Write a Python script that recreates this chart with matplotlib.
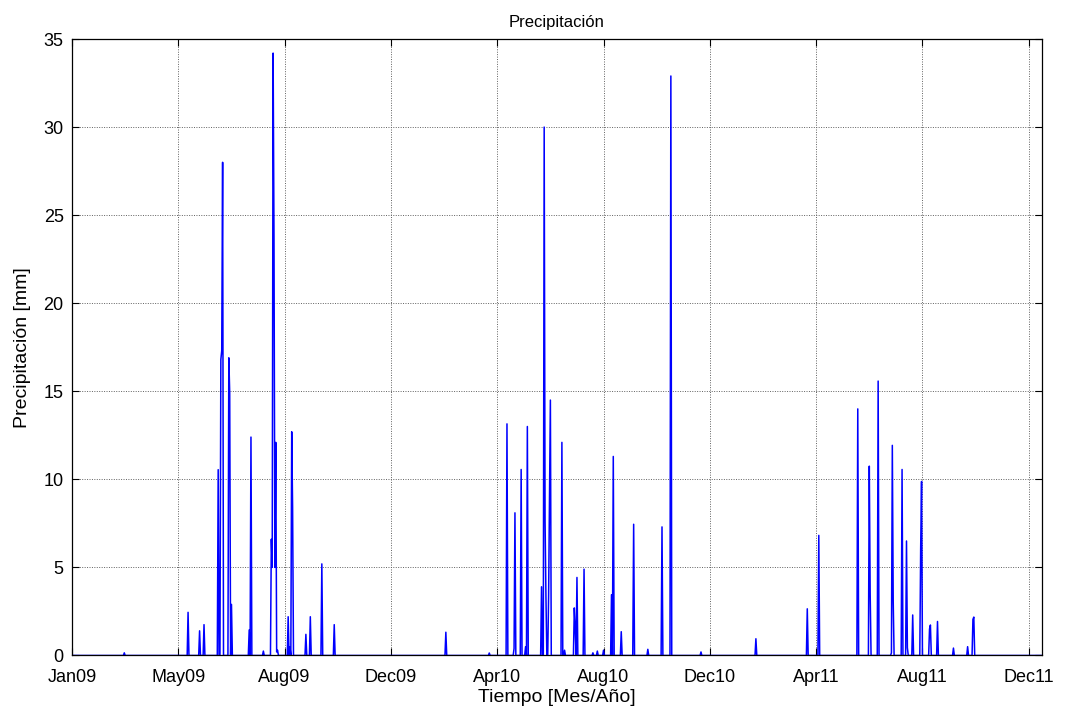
import numpy as np
import pandas as pd
import matplotlib
matplotlib.use("Agg")
import matplotlib.pyplot as plt
import matplotlib.dates as mdates

plt.rcParams['font.family'] = ['Liberation Sans', 'DejaVu Sans']

# Daily record period
start_date = "2009-01-01"
end_date = "2011-12-31"

# Days with recorded rainfall (all other days are 0 mm)
rain_dates = [
    "2009-03-01", "2009-05-12", "2009-05-25", "2009-05-30", "2009-06-15",
    "2009-06-18", "2009-06-19", "2009-06-20", "2009-06-27", "2009-06-28",
    "2009-06-30", "2009-07-20", "2009-07-22", "2009-08-05", "2009-08-14",
    "2009-08-15", "2009-08-16", "2009-08-17", "2009-08-18", "2009-08-19",
    "2009-08-20", "2009-08-21", "2009-09-02", "2009-09-04", "2009-09-06",
    "2009-09-07", "2009-09-22", "2009-09-27", "2009-10-10", "2009-10-24",
    "2010-02-27", "2010-04-17", "2010-05-07", "2010-05-15", "2010-05-16",
    "2010-05-23", "2010-05-28", "2010-05-30", "2010-06-15", "2010-06-18",
    "2010-06-19", "2010-06-20", "2010-06-23", "2010-06-24", "2010-06-25",
    "2010-07-08", "2010-07-11", "2010-07-22", "2010-07-23", "2010-07-25",
    "2010-08-02", "2010-08-12", "2010-08-17", "2010-08-24", "2010-09-02",
    "2010-09-04", "2010-09-13", "2010-09-27", "2010-10-13", "2010-10-29",
    "2010-11-08", "2010-12-12",
    "2011-02-12", "2011-04-11", "2011-04-24", "2011-06-07", "2011-06-20",
    "2011-06-21", "2011-06-30", "2011-07-15", "2011-07-16", "2011-07-17",
    "2011-07-27", "2011-08-01", "2011-08-02", "2011-08-08", "2011-08-17",
    "2011-08-18", "2011-08-27", "2011-08-28", "2011-09-05", "2011-09-23",
    "2011-10-09", "2011-10-15", "2011-10-16",
]
rain_mm = [
    0.15, 2.45, 1.4, 1.75, 10.55,
    16.8, 17.3, 28.0, 16.9, 14.9,
    2.9, 1.45, 12.4, 0.25, 6.6,
    5.0, 34.2, 23.7, 5.0, 12.1,
    0.2, 0.3, 2.2, 0.5, 12.7,
    8.4, 1.2, 2.2, 5.2, 1.75,
    1.32, 0.14, 13.15, 0.4, 8.1,
    10.56, 0.5, 13.0, 3.9, 30.0,
    7.6, 3.3, 3.4, 9.0, 14.5,
    12.1, 0.3, 2.7, 1.6, 4.43,
    4.9, 0.15, 0.25, 0.3, 3.45,
    11.3, 1.35, 7.45, 0.35, 7.3,
    32.9, 0.2,
    0.95, 2.65, 6.82, 14.0, 10.75,
    3.5, 15.58, 0.15, 11.93, 3.1,
    10.56, 6.5, 0.44, 2.3, 6.05,
    9.88, 1.5, 1.73, 1.93, 0.42,
    0.5, 2.05, 2.18,
]

tick_step_days = 120
n_ticks = 10

days = pd.date_range(start_date, end_date, freq="D")
precip = pd.Series(0.0, index=days)
precip.loc[pd.to_datetime(rain_dates)] = rain_mm

fig = plt.figure(figsize=(10.67, 7.17), dpi=100)
ax = fig.add_axes([0.0675, 0.0858, 0.9091, 0.8598])

ax.plot(precip.index, precip.values, color=(0, 0, 1), linewidth=1.1)

ax.set_xlim(pd.Timestamp(start_date), pd.Timestamp(end_date) + pd.Timedelta(days=1))
ax.set_ylim(0, 35)
ax.set_yticks(np.arange(0, 36, 5))
xt = pd.date_range(start_date, periods=n_ticks, freq=f"{tick_step_days}D")
ax.set_xticks(xt)
ax.xaxis.set_major_formatter(mdates.DateFormatter("%b%y"))

ax.grid(True, linestyle=(0, (1, 1.5)), color="#606060", linewidth=0.7)
ax.tick_params(direction="in", length=5, width=0.8, top=True, right=True,
               labelsize=13, colors="black")
ax.tick_params(axis="x", pad=10)
ax.tick_params(axis="y", pad=6)
for sp in ax.spines.values():
    sp.set_linewidth(0.9)

ax.set_title("Precipitación", fontsize=12, pad=9)
ax.set_xlabel("Tiempo [Mes/Año]", fontsize=14, labelpad=2)
ax.set_ylabel("Precipitación [mm]", fontsize=14, labelpad=9)

fig.savefig("out.png", dpi=100, facecolor="white")
